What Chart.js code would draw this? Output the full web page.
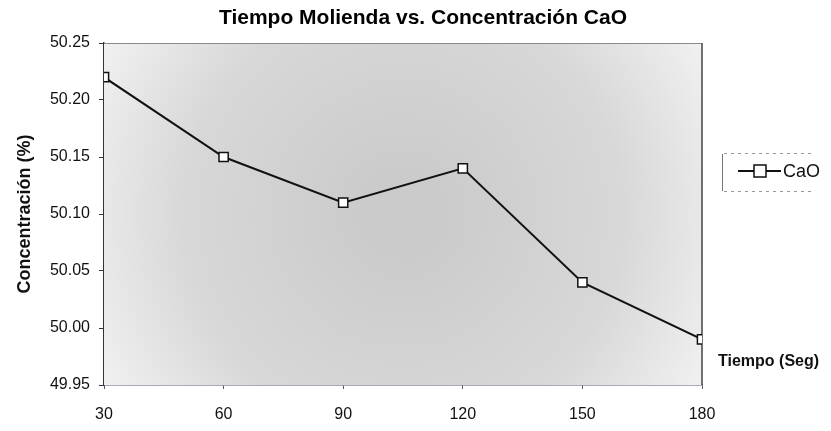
<!DOCTYPE html>
<html lang="es">
<head>
    <meta charset="UTF-8">
    <title>Tiempo Molienda vs. Concentración CaO</title>
    <script src="https://cdn.jsdelivr.net/npm/chart.js"></script>
</head>
<body style="margin: 0; background: #fff;">
    <div style="width: 831px; height: 431px;">
        <canvas id="caoChart" width="831" height="431"></canvas>
    </div>
    <script>
        const tiempos = [30, 60, 90, 120, 150, 180];
        const concentracion = [50.22, 50.15, 50.11, 50.14, 50.04, 49.99];
        const serieNombre = 'CaO';
        const titulo = 'Tiempo Molienda vs. Concentración CaO';

        const fontFamily = '"Liberation Sans", Arial, sans-serif';

        // fondo gris del area de trazado + bordes + titulo, leyenda y etiqueta del eje x
        const decoracion = {
            id: 'decoracion',
            beforeDatasetsDraw(chart) {
                const { ctx, chartArea: a } = chart;
                ctx.save();
                const g = ctx.createRadialGradient(
                    (a.left + a.right) / 2, (a.top + a.bottom) / 2, 40,
                    (a.left + a.right) / 2, (a.top + a.bottom) / 2, 340);
                g.addColorStop(0, '#cbcbcb');
                g.addColorStop(0.6, '#d8d8d8');
                g.addColorStop(1, '#f0f0f0');
                ctx.fillStyle = g;
                ctx.fillRect(a.left, a.top, a.right - a.left, a.bottom - a.top);
                // borde superior y derecho
                ctx.strokeStyle = '#8a8a8a';
                ctx.lineWidth = 1;
                ctx.beginPath();
                ctx.moveTo(a.left, a.top + 0.5);
                ctx.lineTo(a.right, a.top + 0.5);
                ctx.stroke();
                ctx.strokeStyle = '#444';
                ctx.lineWidth = 1.5;
                ctx.beginPath();
                ctx.moveTo(a.right, a.top);
                ctx.lineTo(a.right, a.bottom);
                ctx.stroke();
                ctx.restore();
            },
            afterDraw(chart) {
                const { ctx } = chart;
                ctx.save();
                // titulo
                ctx.fillStyle = '#000';
                ctx.font = 'bold 21px ' + fontFamily;
                ctx.textAlign = 'center';
                ctx.textBaseline = 'middle';
                ctx.fillText(titulo, 423, 18);
                // leyenda
                const ly = 171;
                ctx.strokeStyle = '#999';
                ctx.lineWidth = 1;
                ctx.setLineDash([3, 4]);
                ctx.beginPath();
                ctx.moveTo(724, 153.5); ctx.lineTo(815, 153.5);
                ctx.moveTo(724, 191.5); ctx.lineTo(815, 191.5);
                ctx.stroke();
                ctx.setLineDash([]);
                ctx.strokeStyle = '#777';
                ctx.beginPath();
                ctx.moveTo(722.5, 154); ctx.lineTo(722.5, 191);
                ctx.stroke();
                ctx.strokeStyle = '#111';
                ctx.lineWidth = 2;
                ctx.beginPath();
                ctx.moveTo(738, ly); ctx.lineTo(781, ly);
                ctx.stroke();
                ctx.fillStyle = '#fff';
                ctx.fillRect(754, ly - 6, 12, 12);
                ctx.lineWidth = 1.5;
                ctx.strokeRect(754, ly - 6, 12, 12);
                ctx.fillStyle = '#111';
                ctx.font = '18px ' + fontFamily;
                ctx.textAlign = 'left';
                ctx.fillText(serieNombre, 783, ly + 1);
                // titulo del eje x
                ctx.font = 'bold 16px ' + fontFamily;
                ctx.fillText('Tiempo (Seg)', 718, 362);
                ctx.restore();
            }
        };

        const ctx = document.getElementById('caoChart').getContext('2d');
        new Chart(ctx, {
            type: 'line',
            data: {
                datasets: [
                    {
                        label: serieNombre,
                        data: tiempos.map((t, i) => ({ x: t, y: concentracion[i] })),
                        borderColor: '#111',
                        borderWidth: 2,
                        pointStyle: 'rect',
                        pointRadius: 6.5,
                        pointBackgroundColor: '#fff',
                        pointBorderColor: '#111',
                        pointBorderWidth: 1.5,
                        tension: 0
                    }
                ]
            },
            options: {
                responsive: false,
                animation: false,
                layout: { padding: { left: 0, right: 129, top: 43, bottom: 2 } },
                plugins: {
                    legend: { display: false },
                    tooltip: { enabled: false },
                    title: { display: false }
                },
                scales: {
                    x: {
                        type: 'linear',
                        min: 30,
                        max: 180,
                        afterFit: s => { s.height = 44; },
                        ticks: {
                            stepSize: 30,
                            padding: 16,
                            color: '#111',
                            font: { family: fontFamily, size: 16 }
                        },
                        grid: { drawOnChartArea: false, tickLength: 4, color: '#55557a' },
                        border: { color: '#55557a', width: 1.5, dash: [5, 3] }
                    },
                    y: {
                        min: 49.95,
                        max: 50.25,
                        afterFit: s => { s.width = 104; },
                        ticks: {
                            stepSize: 0.05,
                            padding: 9,
                            color: '#111',
                            font: { family: fontFamily, size: 16 },
                            callback: v => v.toFixed(2)
                        },
                        title: {
                            display: true,
                            text: 'Concentración (%)',
                            color: '#111',
                            font: { family: fontFamily, size: 18, weight: 'bold' },
                            padding: { top: 14, bottom: 4 }
                        },
                        grid: { drawOnChartArea: false, tickLength: 5, color: '#333' },
                        border: { color: '#333', width: 1.5 }
                    }
                }
            },
            plugins: [decoracion]
        });
    </script>
</body>
</html>
